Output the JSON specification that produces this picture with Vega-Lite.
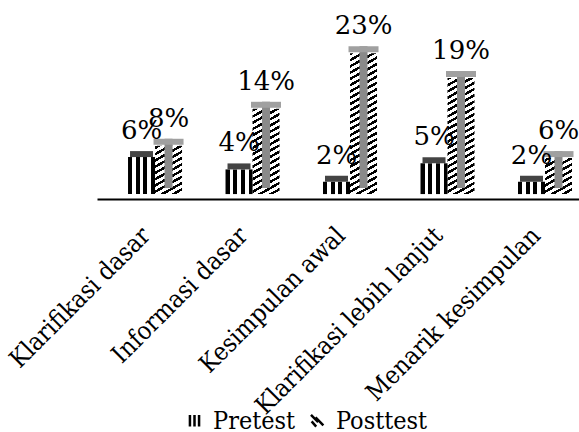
{
  "$schema": "https://vega.github.io/schema/vega-lite/v6.json",
  "width": 482,
  "height": 159,
  "autosize": {"type": "none"},
  "padding": {"left": 97, "top": 40, "right": 0, "bottom": 233},
  "background": "white",
  "config": {"view": {"stroke": null}, "font": "DejaVu Serif"},
  "data": {
    "values": [
      {"cat": "Klarifikasi dasar", "series": "Pretest", "value": 6, "label": "6%"},
      {"cat": "Klarifikasi dasar", "series": "Posttest", "value": 8, "label": "8%"},
      {"cat": "Informasi dasar", "series": "Pretest", "value": 4, "label": "4%"},
      {"cat": "Informasi dasar", "series": "Posttest", "value": 14, "label": "14%"},
      {"cat": "Kesimpulan awal", "series": "Pretest", "value": 2, "label": "2%"},
      {"cat": "Kesimpulan awal", "series": "Posttest", "value": 23, "label": "23%"},
      {"cat": "Klarifikasi lebih lanjut", "series": "Pretest", "value": 5, "label": "5%"},
      {"cat": "Klarifikasi lebih lanjut", "series": "Posttest", "value": 19, "label": "19%"},
      {"cat": "Menarik kesimpulan", "series": "Pretest", "value": 2, "label": "2%"},
      {"cat": "Menarik kesimpulan", "series": "Posttest", "value": 6, "label": "6%"}
    ]
  },
  "encoding": {
    "x": {
      "field": "cat", "type": "nominal", "sort": null,
      "scale": {"paddingInner": 0.446, "paddingOuter": 0.195, "align": 0.816},
      "axis": {
        "title": null, "labelAngle": -45, "labelAlign": "right", "labelBaseline": "middle",
        "labelFont": "DejaVu Serif Condensed", "labelFontSize": 25, "labelColor": "black",
        "labelLimit": 600, "labelPadding": 32, "labelOffset": -9, "ticks": false,
        "domainColor": "black", "domainWidth": 2, "grid": false
      }
    },
    "xOffset": {
      "field": "series", "type": "nominal",
      "scale": {"domain": ["Pretest", "Posttest"], "paddingInner": 0, "paddingOuter": 0}
    }
  },
  "layer": [
    {
      "transform": [{"filter": "datum.series === 'Posttest'"}],
      "mark": {
        "type": "bar",
        "fill": {
          "gradient": "linear", "x1": 0, "y1": 0, "x2": 0.1068, "y2": 1.0877,
          "stops": [
            {"offset": 0, "color": "#000"}, {"offset": 0.0167, "color": "#000"}, {"offset": 0.0167, "color": "#fff"}, {"offset": 0.0370, "color": "#fff"},
            {"offset": 0.0370, "color": "#000"}, {"offset": 0.0537, "color": "#000"}, {"offset": 0.0537, "color": "#fff"}, {"offset": 0.0741, "color": "#fff"},
            {"offset": 0.0741, "color": "#000"}, {"offset": 0.0907, "color": "#000"}, {"offset": 0.0907, "color": "#fff"}, {"offset": 0.1111, "color": "#fff"},
            {"offset": 0.1111, "color": "#000"}, {"offset": 0.1278, "color": "#000"}, {"offset": 0.1278, "color": "#fff"}, {"offset": 0.1481, "color": "#fff"},
            {"offset": 0.1481, "color": "#000"}, {"offset": 0.1648, "color": "#000"}, {"offset": 0.1648, "color": "#fff"}, {"offset": 0.1852, "color": "#fff"},
            {"offset": 0.1852, "color": "#000"}, {"offset": 0.2019, "color": "#000"}, {"offset": 0.2019, "color": "#fff"}, {"offset": 0.2222, "color": "#fff"},
            {"offset": 0.2222, "color": "#000"}, {"offset": 0.2389, "color": "#000"}, {"offset": 0.2389, "color": "#fff"}, {"offset": 0.2593, "color": "#fff"},
            {"offset": 0.2593, "color": "#000"}, {"offset": 0.2759, "color": "#000"}, {"offset": 0.2759, "color": "#fff"}, {"offset": 0.2963, "color": "#fff"},
            {"offset": 0.2963, "color": "#000"}, {"offset": 0.3130, "color": "#000"}, {"offset": 0.3130, "color": "#fff"}, {"offset": 0.3333, "color": "#fff"},
            {"offset": 0.3333, "color": "#000"}, {"offset": 0.3500, "color": "#000"}, {"offset": 0.3500, "color": "#fff"}, {"offset": 0.3704, "color": "#fff"},
            {"offset": 0.3704, "color": "#000"}, {"offset": 0.3870, "color": "#000"}, {"offset": 0.3870, "color": "#fff"}, {"offset": 0.4074, "color": "#fff"},
            {"offset": 0.4074, "color": "#000"}, {"offset": 0.4241, "color": "#000"}, {"offset": 0.4241, "color": "#fff"}, {"offset": 0.4444, "color": "#fff"},
            {"offset": 0.4444, "color": "#000"}, {"offset": 0.4611, "color": "#000"}, {"offset": 0.4611, "color": "#fff"}, {"offset": 0.4815, "color": "#fff"},
            {"offset": 0.4815, "color": "#000"}, {"offset": 0.4981, "color": "#000"}, {"offset": 0.4981, "color": "#fff"}, {"offset": 0.5185, "color": "#fff"},
            {"offset": 0.5185, "color": "#000"}, {"offset": 0.5352, "color": "#000"}, {"offset": 0.5352, "color": "#fff"}, {"offset": 0.5556, "color": "#fff"},
            {"offset": 0.5556, "color": "#000"}, {"offset": 0.5722, "color": "#000"}, {"offset": 0.5722, "color": "#fff"}, {"offset": 0.5926, "color": "#fff"},
            {"offset": 0.5926, "color": "#000"}, {"offset": 0.6093, "color": "#000"}, {"offset": 0.6093, "color": "#fff"}, {"offset": 0.6296, "color": "#fff"},
            {"offset": 0.6296, "color": "#000"}, {"offset": 0.6463, "color": "#000"}, {"offset": 0.6463, "color": "#fff"}, {"offset": 0.6667, "color": "#fff"},
            {"offset": 0.6667, "color": "#000"}, {"offset": 0.6833, "color": "#000"}, {"offset": 0.6833, "color": "#fff"}, {"offset": 0.7037, "color": "#fff"},
            {"offset": 0.7037, "color": "#000"}, {"offset": 0.7204, "color": "#000"}, {"offset": 0.7204, "color": "#fff"}, {"offset": 0.7407, "color": "#fff"},
            {"offset": 0.7407, "color": "#000"}, {"offset": 0.7574, "color": "#000"}, {"offset": 0.7574, "color": "#fff"}, {"offset": 0.7778, "color": "#fff"},
            {"offset": 0.7778, "color": "#000"}, {"offset": 0.7944, "color": "#000"}, {"offset": 0.7944, "color": "#fff"}, {"offset": 0.8148, "color": "#fff"},
            {"offset": 0.8148, "color": "#000"}, {"offset": 0.8315, "color": "#000"}, {"offset": 0.8315, "color": "#fff"}, {"offset": 0.8519, "color": "#fff"},
            {"offset": 0.8519, "color": "#000"}, {"offset": 0.8685, "color": "#000"}, {"offset": 0.8685, "color": "#fff"}, {"offset": 0.8889, "color": "#fff"},
            {"offset": 0.8889, "color": "#000"}, {"offset": 0.9056, "color": "#000"}, {"offset": 0.9056, "color": "#fff"}, {"offset": 0.9259, "color": "#fff"},
            {"offset": 0.9259, "color": "#000"}, {"offset": 0.9426, "color": "#000"}, {"offset": 0.9426, "color": "#fff"}, {"offset": 0.9630, "color": "#fff"},
            {"offset": 0.9630, "color": "#000"}, {"offset": 0.9796, "color": "#000"}, {"offset": 0.9796, "color": "#fff"}, {"offset": 1, "color": "#fff"}
          ]
        }
      },
      "encoding": {
        "y": {"datum": 25, "type": "quantitative", "scale": {"domain": [-0.8, 25]}, "axis": null}
      }
    },
    {
      "transform": [{"filter": "datum.series === 'Posttest'"}],
      "mark": {"type": "bar", "fill": "white", "stroke": "white", "strokeWidth": 2},
      "encoding": {
        "y": {"field": "value", "type": "quantitative", "scale": {"domain": [-0.8, 25]}, "axis": null},
        "y2": {"datum": 25}
      }
    },
    {
      "transform": [{"filter": "datum.series === 'Posttest'"}],
      "mark": {"type": "bar", "fill": "#8a8a8a", "width": 8, "xOffset": 17.5, "yOffset": -6},
      "encoding": {
        "y": {"field": "value", "type": "quantitative", "scale": {"domain": [-0.8, 25]}, "axis": null}
      }
    },
    {
      "transform": [{"filter": "datum.series === 'Posttest'"}],
      "mark": {"type": "bar", "fill": "#a0a0a0", "width": 30, "xOffset": 6, "yOffset": -6, "y2Offset": 0},
      "encoding": {
        "y": {"field": "value", "type": "quantitative", "scale": {"domain": [-0.8, 25]}, "axis": null},
        "y2": {"field": "value"}
      }
    },
    {
      "transform": [{"filter": "datum.series === 'Pretest'"}],
      "mark": {
        "type": "bar",
        "fill": {
          "gradient": "linear", "x1": 0, "y1": 0, "x2": 1, "y2": 0,
          "stops": [
            {"offset": 0, "color": "#000"}, {"offset": 0.149, "color": "#000"}, {"offset": 0.149, "color": "#fff"}, {"offset": 0.284, "color": "#fff"},
            {"offset": 0.284, "color": "#000"}, {"offset": 0.433, "color": "#000"}, {"offset": 0.433, "color": "#fff"}, {"offset": 0.568, "color": "#fff"},
            {"offset": 0.568, "color": "#000"}, {"offset": 0.717, "color": "#000"}, {"offset": 0.717, "color": "#fff"}, {"offset": 0.852, "color": "#fff"},
            {"offset": 0.852, "color": "#000"}, {"offset": 1, "color": "#000"}
          ]
        }
      },
      "encoding": {
        "y": {"field": "value", "type": "quantitative", "scale": {"domain": [-0.8, 25]}, "axis": null}
      }
    },
    {
      "transform": [{"filter": "datum.series === 'Pretest'"}],
      "mark": {"type": "bar", "fill": "#444", "width": 23, "xOffset": 2, "yOffset": -6, "y2Offset": 0},
      "encoding": {
        "y": {"field": "value", "type": "quantitative", "scale": {"domain": [-0.8, 25]}, "axis": null},
        "y2": {"field": "value"}
      }
    },
    {
      "mark": {"type": "text", "dy": -18, "baseline": "alphabetic", "fontSize": 26, "font": "DejaVu Serif"},
      "encoding": {
        "y": {"field": "value", "type": "quantitative", "scale": {"domain": [-0.8, 25]}, "axis": null},
        "text": {"field": "label"},
        "color": {
          "field": "series", "type": "nominal",
          "scale": {"domain": ["Pretest", "Posttest"], "range": ["black", "black"]},
          "legend": {
            "title": null, "orient": "none", "legendX": 85, "legendY": 368, "direction": "horizontal",
            "padding": 0, "labelFont": "DejaVu Serif Condensed", "labelFontSize": 25, "labelColor": "black",
            "symbolSize": 170, "labelOffset": 6, "columnPadding": 9, "symbolStrokeWidth": 2.5,
            "encode": {
              "symbols": {
                "update": {
                  "shape": {"signal": "datum.value === 'Pretest' ? 'M-0.7,-0.9V0.9M0,-0.9V0.9M0.7,-0.9V0.9' : 'M-1,-0.9L0.1,0.2M-0.3,-0.5L0.9,0.7M-0.9,0.1L-0.2,0.9'"},
                  "fill": {"value": "transparent"},
                  "stroke": {"value": "black"},
                  "strokeWidth": {"value": 2.5}
                }
              }
            }
          }
        }
      }
    }
  ]
}
